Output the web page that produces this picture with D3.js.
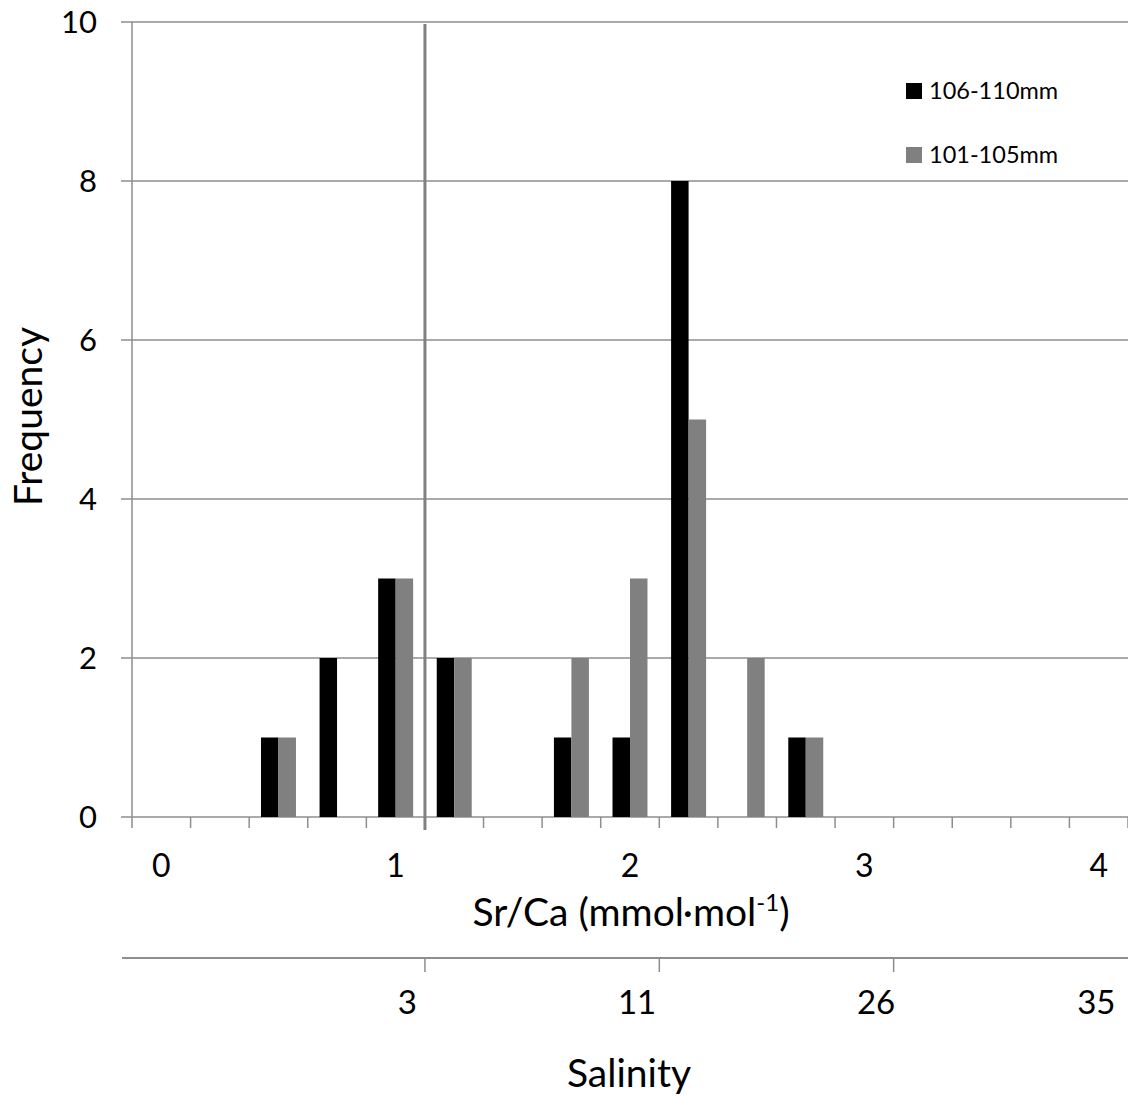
<!DOCTYPE html>
<html>
<head>
<meta charset="utf-8">
<script src="https://cdn.jsdelivr.net/npm/d3@7"></script>
<style>
  body { margin: 0; background: #fff; }
  text { font-family: Lato, "Open Sans", sans-serif; fill: #000; }
</style>
</head>
<body>
<div id="vis"></div>
<script>
// Sr/Ca bins (mmol/mol), one bar pair per bin
const bins = ['0', '0.25', '0.5', '0.75', '1', '1.25', '1.5', '1.75', '2',
              '2.25', '2.5', '2.75', '3', '3.25', '3.5', '3.75', '4'];
const seriesNames = ['106-110mm', '101-105mm'];
const freq106 = [0, 0, 1, 2, 3, 2, 0, 1, 1, 8, 0, 1, 0, 0, 0, 0, 0];
const freq101 = [0, 0, 1, 0, 3, 2, 0, 2, 3, 5, 2, 1, 0, 0, 0, 0, 0];
const yTicks = [0, 2, 4, 6, 8, 10];
const xLabelBins = ['0', '1', '2', '3', '4'];
// secondary salinity axis, placed in Sr/Ca units
const salinityTickAt = [1.125, 2.125, 3.125];
const salinityLabels = ['3', '11', '26', '35'];
const salinityLabelAt = [1.05, 2.03, 3.05, 3.99];
const thresholdBin = '1.25'; // vertical line at the left edge of this bin

const width = 1128;
const height = 1097;
const margin = { top: 22, left: 132, bottom: 280 };
const colors = { '106-110mm': '#000000', '101-105mm': '#808080' };
const gridColor = '#8e8e8e';

const svg = d3.select('#vis')
  .append('svg')
  .attr('width', width)
  .attr('height', height);

const x = d3.scaleBand().domain(bins).range([margin.left, width]).padding(0);
const xSub = d3.scaleBand().domain(seriesNames).range([0, x.bandwidth()])
  .paddingInner(0).paddingOuter(0.675);
const y = d3.scaleLinear().domain([0, 10]).range([height - margin.bottom, margin.top]);
const srca = d3.scaleLinear().domain([0, 4])
  .range([x('0') + x.bandwidth() / 2, x('4') + x.bandwidth() / 2]);

const y0 = y(0);

// gridlines
svg.append('g')
  .selectAll('line')
  .data(yTicks)
  .join('line')
  .attr('x1', margin.left - 11)
  .attr('x2', width)
  .attr('y1', d => y(d))
  .attr('y2', d => y(d))
  .attr('stroke', gridColor)
  .attr('stroke-width', 1.5);

// y axis line
svg.append('line')
  .attr('x1', margin.left).attr('x2', margin.left)
  .attr('y1', y(10)).attr('y2', y0)
  .attr('stroke', gridColor).attr('stroke-width', 1.5);

svg.append('g')
  .selectAll('text')
  .data(yTicks)
  .join('text')
  .attr('x', 97)
  .attr('y', d => y(d) + 11)
  .attr('text-anchor', 'end')
  .attr('font-size', 31)
  .text(d => d);

// bars
const rows = bins.map((b, i) => ({ bin: b, values: [freq106[i], freq101[i]] }));
const groups = svg.append('g')
  .selectAll('g')
  .data(rows)
  .join('g')
  .attr('transform', d => `translate(${x(d.bin)},0)`);

groups.selectAll('rect')
  .data(d => seriesNames.map((s, k) => ({ s, v: d.values[k] })).filter(d => d.v > 0))
  .join('rect')
  .attr('x', d => xSub(d.s))
  .attr('width', xSub.bandwidth())
  .attr('y', d => y(d.v))
  .attr('height', d => y0 - y(d.v))
  .attr('fill', d => colors[d.s]);

// x axis ticks (category boundaries)
const bounds = bins.map(b => x(b)).concat([x(bins[bins.length - 1]) + x.bandwidth()]);
svg.append('g')
  .selectAll('line')
  .data(bounds)
  .join('line')
  .attr('x1', d => d).attr('x2', d => d)
  .attr('y1', y0).attr('y2', y0 + 11)
  .attr('stroke', gridColor).attr('stroke-width', 1.5);

svg.append('g')
  .selectAll('text')
  .data(xLabelBins)
  .join('text')
  .attr('x', d => x(d) + x.bandwidth() / 2)
  .attr('y', 877)
  .attr('text-anchor', 'middle')
  .attr('font-size', 32)
  .text(d => d);

// threshold line
svg.append('line')
  .attr('x1', x(thresholdBin)).attr('x2', x(thresholdBin))
  .attr('y1', y(10) + 2).attr('y2', y0 + 13)
  .attr('stroke', '#808080').attr('stroke-width', 3);

// x title
const xt = svg.append('text')
  .attr('x', 631)
  .attr('y', 926)
  .attr('text-anchor', 'middle')
  .attr('font-size', 39);
xt.append('tspan').text('Sr/Ca (mmol·mol');
xt.append('tspan').attr('font-size', 24).attr('dy', -15).text('-1');
xt.append('tspan').attr('dy', 15).text(')');

// salinity axis
const salY = 958;
svg.append('line')
  .attr('x1', 122).attr('x2', width)
  .attr('y1', salY).attr('y2', salY)
  .attr('stroke', gridColor).attr('stroke-width', 2);

svg.append('g')
  .selectAll('line')
  .data(salinityTickAt)
  .join('line')
  .attr('x1', d => srca(d)).attr('x2', d => srca(d))
  .attr('y1', salY).attr('y2', salY + 14)
  .attr('stroke', gridColor).attr('stroke-width', 1.5);

svg.append('g')
  .selectAll('text')
  .data(salinityLabels)
  .join('text')
  .attr('x', (d, i) => srca(salinityLabelAt[i]))
  .attr('y', 1014)
  .attr('text-anchor', 'middle')
  .attr('font-size', 33)
  .text(d => d);

svg.append('text')
  .attr('x', 629)
  .attr('y', 1087)
  .attr('text-anchor', 'middle')
  .attr('font-size', 39)
  .text('Salinity');

// y title
svg.append('text')
  .attr('transform', `translate(42,${(y(10) + y0) / 2 - 3}) rotate(-90)`)
  .attr('text-anchor', 'middle')
  .attr('font-size', 39)
  .text('Frequency');

// legend
const legend = svg.append('g')
  .selectAll('g')
  .data(seriesNames)
  .join('g')
  .attr('transform', (d, i) => `translate(906,${83 + i * 64})`);

legend.append('rect')
  .attr('width', 16).attr('height', 16)
  .attr('fill', d => colors[d]);

legend.append('text')
  .attr('x', 23)
  .attr('y', 16)
  .attr('font-size', 23.5)
  .text(d => d);
</script>
</body>
</html>
